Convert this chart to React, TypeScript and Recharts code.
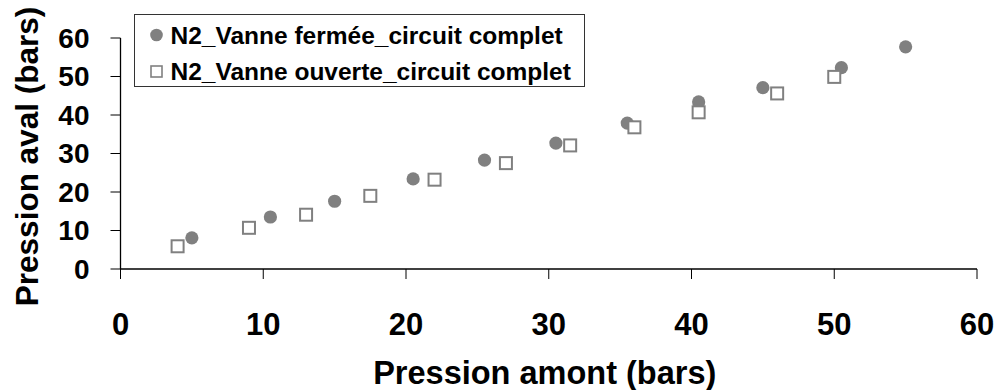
import React from "react";
import { ScatterChart, Scatter, XAxis, YAxis, Legend } from "recharts";

const closedName = "N2_Vanne fermée_circuit complet";
const openName = "N2_Vanne ouverte_circuit complet";

const closedX = [5, 10.5, 15, 20.5, 25.5, 30.5, 35.5, 40.5, 45, 50.5, 55];
const closedY = [8.1, 13.5, 17.6, 23.4, 28.3, 32.7, 37.9, 43.4, 47.1, 52.3, 57.7];
const openX = [4, 9, 13, 17.5, 22, 27, 31.5, 36, 40.5, 46, 50];
const openY = [5.9, 10.7, 14.1, 19.0, 23.2, 27.5, 32.1, 36.8, 40.7, 45.6, 49.9];

const xTicks = [0, 10, 20, 30, 40, 50, 60];
const yTicks = [0, 10, 20, 30, 40, 50, 60];

const xTitle = "Pression amont (bars)";
const yTitle = "Pression aval (bars)";

const closedData = closedX.map((x, i) => ({ x, y: closedY[i] }));
const openData = openX.map((x, i) => ({ x, y: openY[i] }));

const FONT = "'Liberation Sans', Arial, Helvetica, sans-serif";
const GRAY = "#808080";

const CircleShape = (p: any) => (
  <circle cx={p.cx} cy={p.cy} r={6.6} fill={GRAY} />
);
const SquareShape = (p: any) => (
  <rect x={p.cx - 6} y={p.cy - 6} width={12} height={12} fill="#ffffff" stroke={GRAY} strokeWidth={2} />
);

const LegendBox = () => (
  <svg width={452} height={74} style={{ display: "block" }}>
    <rect x={0.5} y={0.5} width={450} height={72} fill="#ffffff" stroke="#333" strokeWidth={1} />
    <circle cx={22.5} cy={21} r={6.3} fill={GRAY} />
    <text x={36.5} y={30} fontFamily={FONT} fontWeight="bold" fontSize={24.5} fill="#000">{closedName}</text>
    <rect x={17} y={52} width={11} height={11} fill="#fff" stroke={GRAY} strokeWidth={1.6} />
    <text x={36.5} y={65.5} fontFamily={FONT} fontWeight="bold" fontSize={24.5} fill="#000">{openName}</text>
  </svg>
);

const XTitle = (props: any) => {
  const vb = props.viewBox || {};
  return (
    <text x={vb.x + vb.width / 2 - 4} y={vb.y + 115} textAnchor="middle" fontFamily={FONT} fontWeight="bold" fontSize={32.5} fill="#000">
      {xTitle}
    </text>
  );
};

const YTitle = (props: any) => {
  const vb = props.viewBox || {};
  const cx = 38;
  const cy = vb.y + vb.height / 2 + 3;
  return (
    <text x={cx} y={cy} transform={`rotate(-90 ${cx} ${cy})`} textAnchor="middle" fontFamily={FONT} fontWeight="bold" fontSize={31.5} fill="#000">
      {yTitle}
    </text>
  );
};

export default function App() {
  return (
    <div style={{ position: "absolute", left: 0, top: 0, width: 998, height: 390, background: "#fff" }}>
      <ScatterChart width={998} height={390} margin={{ top: 38, right: 21, left: 0, bottom: 0 }}>
        <XAxis
          type="number"
          dataKey="x"
          domain={[0, 60]}
          ticks={xTicks}
          interval={0}
          height={121}
          tickSize={10}
          tickMargin={34}
          axisLine={{ stroke: "#000", strokeWidth: 1.3 }}
          tickLine={{ stroke: "#000", strokeWidth: 1 }}
          tick={{ fill: "#000", fontFamily: FONT, fontWeight: "bold", fontSize: 31 }}
          label={{ content: XTitle }}
        />
        <YAxis
          type="number"
          dataKey="y"
          domain={[0, 60]}
          ticks={yTicks}
          interval={0}
          width={120.5}
          tickSize={10}
          tickMargin={21}
          axisLine={{ stroke: "#000", strokeWidth: 1.3 }}
          tickLine={{ stroke: "#000", strokeWidth: 1 }}
          tick={{ fill: "#000", fontFamily: FONT, fontWeight: "bold", fontSize: 28 }}
          label={{ content: YTitle }}
        />
        <Legend
          layout="vertical"
          align="center"
          verticalAlign="middle"
          content={() => <LegendBox />}
          wrapperStyle={{ position: "absolute", left: 134, top: 14, width: 452, height: 74 }}
        />
        <Scatter name={closedName} data={closedData} fill={GRAY} shape={CircleShape} isAnimationActive={false} />
        <Scatter name={openName} data={openData} fill={GRAY} shape={SquareShape} isAnimationActive={false} />
      </ScatterChart>
    </div>
  );
}
